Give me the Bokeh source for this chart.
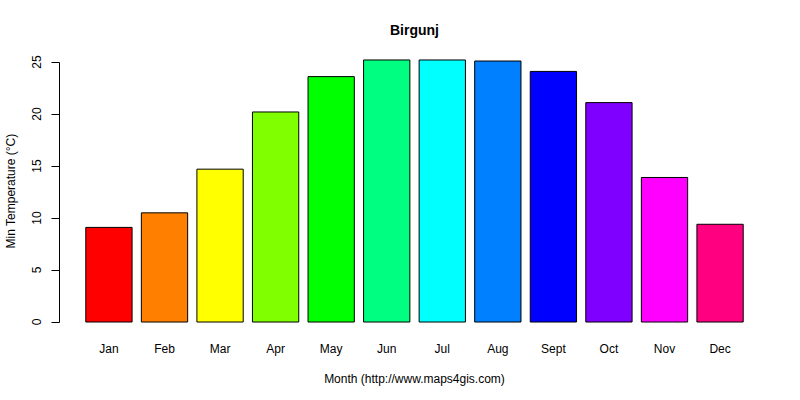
from bokeh.plotting import figure
from bokeh.models import Range1d, FixedTicker, Title, ColumnDataSource
from bokeh.embed import file_html
from bokeh.resources import INLINE

# Data
months = ["Jan", "Feb", "Mar", "Apr", "May", "Jun", "Jul", "Aug", "Sept", "Oct", "Nov", "Dec"]
min_temp = [9.1, 10.5, 14.7, 20.2, 23.6, 25.2, 25.2, 25.1, 24.1, 21.1, 13.9, 9.4]
colors = ["#FF0000", "#FF8000", "#FFFF00", "#80FF00", "#00FF00", "#00FF80",
          "#00FFFF", "#0080FF", "#0000FF", "#8000FF", "#FF00FF", "#FF0080"]
y_ticks = [0, 5, 10, 15, 20, 25]
title_text = "Birgunj"
x_label = "Month (http://www.maps4gis.com)"
y_label = "Min Temperature (\u00b0C)"

FONT = "Liberation Sans"

idx = list(range(len(months)))
src = ColumnDataSource(dict(x=idx, top=min_temp, color=colors))

ymax = max(min_temp)
p = figure(width=784, height=388, output_backend="svg", toolbar_location=None,
           x_range=Range1d(-0.89, len(months) - 1 + 0.89),
           y_range=Range1d(-0.04 * ymax, ymax * 1.04),
           min_border_left=59, min_border_right=15, min_border_top=49, min_border_bottom=54)

p.vbar(x="x", top="top", bottom=0, width=1 / 1.2, fill_color="color",
       line_color="black", line_width=1, source=src)

p.title = Title(text=title_text, align="center", text_font=FONT,
                text_font_size="14px", text_font_style="bold", text_color="black",
                standoff=14, padding=5)

p.xgrid.visible = False
p.ygrid.visible = False
p.outline_line_color = None

# y axis
ya = p.yaxis[0]
ya.ticker = FixedTicker(ticks=y_ticks)
ya.bounds = (min(y_ticks), max(y_ticks))
ya.major_label_orientation = "vertical"
ya.major_tick_out = 8
ya.major_tick_in = 0
ya.minor_tick_line_color = None
ya.axis_line_color = "black"
ya.major_tick_line_color = "black"
ya.major_label_text_font = FONT
ya.major_label_text_font_size = "12px"
ya.major_label_text_color = "black"
ya.major_label_standoff = 10
ya.axis_label = y_label
ya.axis_label_text_font = FONT
ya.axis_label_text_font_size = "12px"
ya.axis_label_text_font_style = "normal"
ya.axis_label_text_color = "black"
ya.axis_label_standoff = 12

# x axis
xa = p.xaxis[0]
xa.ticker = FixedTicker(ticks=idx)
xa.major_label_overrides = {i: m for i, m in zip(idx, months)}
xa.axis_line_color = None
xa.major_tick_line_color = None
xa.minor_tick_line_color = None
xa.major_tick_out = 0
xa.major_tick_in = 0
xa.major_label_text_font = FONT
xa.major_label_text_font_size = "12px"
xa.major_label_text_color = "black"
xa.major_label_standoff = 9
xa.axis_label = x_label
xa.axis_label_text_font = FONT
xa.axis_label_text_font_size = "12px"
xa.axis_label_text_font_style = "normal"
xa.axis_label_text_color = "black"
xa.axis_label_standoff = 13

open("out.html", "w").write(file_html(p, INLINE))
